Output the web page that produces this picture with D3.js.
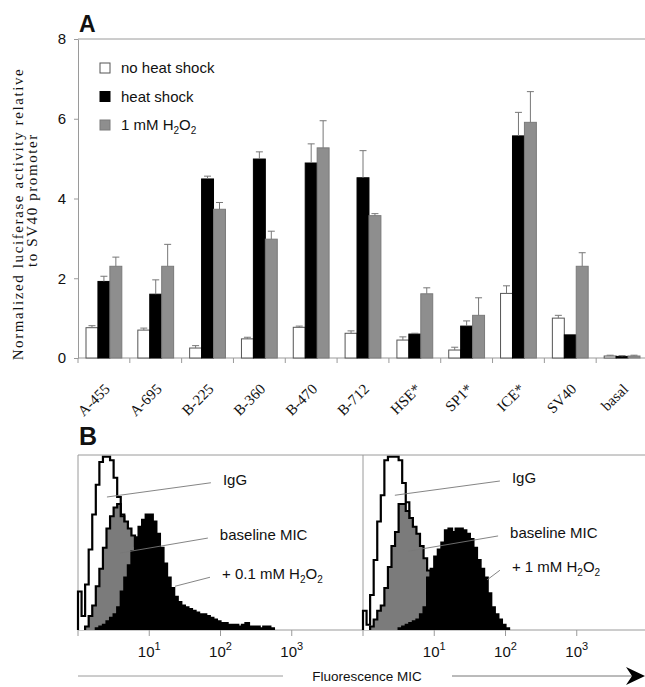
<!DOCTYPE html>
<html>
<head>
<meta charset="utf-8">
<script src="https://cdnjs.cloudflare.com/ajax/libs/d3/7.8.5/d3.min.js"></script>
<style>
  body { margin: 0; background: #fff; }
  text { font-family: "Liberation Sans", Arial, sans-serif; fill: #111; }
  .serif { font-family: "Liberation Serif", "Times New Roman", serif; }
</style>
</head>
<body>
<svg id="chart" width="645" height="687"></svg>
<script>
// ---- panel A: luciferase activity ----
const categories = ["A-455", "A-695", "B-225", "B-360", "B-470", "B-712", "HSE*", "SP1*", "ICE*", "SV40", "basal"];
const seriesNames = ["no heat shock", "heat shock", "1 mM H2O2"];
const noHeat    = [0.76, 0.70, 0.25, 0.48, 0.77, 0.62, 0.45, 0.20, 1.62, 1.00, 0.05];
const noHeatErr = [0.05, 0.05, 0.06, 0.04, 0.03, 0.06, 0.08, 0.07, 0.19, 0.07, 0.02];
const heat      = [1.92, 1.60, 4.49, 4.99, 4.89, 4.52, 0.60, 0.80, 5.57, 0.58, 0.04];
const heatErr   = [0.13, 0.36, 0.07, 0.18, 0.48, 0.68, 0.02, 0.13, 0.59, 0.00, 0.02];
const h2o2      = [2.30, 2.30, 3.73, 2.98, 5.27, 3.57, 1.61, 1.07, 5.91, 2.30, 0.05];
const h2o2Err   = [0.23, 0.55, 0.17, 0.20, 0.68, 0.05, 0.15, 0.44, 0.77, 0.34, 0.02];
const yTicks = [0, 2, 4, 6, 8];

// ---- panel B: flow histograms, counts per 1/20 decade bin ----
const binsPerDecade = 20;
const decadeTicks = [0, 1, 2, 3];
// left: + 0.1 mM H2O2
const p1IggStart = 0;
const p1Igg = [22, 8, 26, 46, 66, 83, 96, 99, 99, 97, 87, 76, 66, 54, 43, 31, 22, 14, 9, 5, 2, 1];
const p1BaseStart = 2;
const p1Base = [2, 8, 14, 25, 35, 47, 58, 65, 70, 72, 65, 62, 58, 54, 48, 42, 36, 30, 24, 18, 13, 9, 6, 4, 2, 1];
const p1TreatStart = 5;
const p1Treat = [1, 2, 3, 5, 7, 9, 13, 22, 30, 37, 45, 53, 59, 63, 66, 66, 62, 55, 47, 38,
                 30, 24, 19, 16, 14, 13, 12, 11, 10, 9, 9, 8, 7, 6, 5, 4, 4, 3, 3, 3,
                 2, 3, 4, 2, 2, 2, 1, 2, 2, 1];
// right: + 1 mM H2O2
const p2IggStart = 0;
const p2Igg = [11, 3, 20, 40, 62, 77, 97, 99, 99, 99, 97, 84, 73, 60, 47, 35, 25, 17, 11, 6, 3, 1];
const p2BaseStart = 2;
const p2Base = [2, 6, 11, 14, 24, 36, 48, 56, 72, 72, 68, 64, 59, 55, 48, 41, 34, 28, 22, 16, 11, 7, 4, 2, 1];
const p2TreatStart = 10;
const p2Treat = [1, 2, 3, 4, 5, 6, 9, 13, 30, 35, 42, 46, 50, 57, 58, 56, 58, 58, 57, 55,
                 52, 47, 40, 35, 30, 21, 13, 9, 6, 3, 1];

const svg = d3.select("#chart");
const axisGray = "#9a9a9a";

// =================== panel A ===================
const ax0 = 78, ax1 = 648, ayTop = 39, ayBot = 358;
const x = d3.scaleBand().domain(categories).range([ax0, ax1]);
const xs = d3.scaleBand().domain(d3.range(3)).range([8, x.bandwidth() - 8]);
const y = d3.scaleLinear().domain([0, 8]).range([ayBot, ayTop]);

const gA = svg.append("g");

gA.append("line")
  .attr("x1", ax0).attr("x2", 645).attr("y1", y(8)).attr("y2", y(8))
  .attr("stroke", axisGray);

gA.append("g")
  .attr("transform", `translate(${ax0},0)`)
  .call(d3.axisLeft(y).tickValues(yTicks).tickSize(4).tickSizeOuter(0).tickPadding(8))
  .call(g => {
    g.attr("font-family", null).attr("font-size", null);
    g.select(".domain").attr("stroke", axisGray);
    g.selectAll(".tick line").attr("stroke", axisGray);
    g.selectAll(".tick text").attr("font-size", 15).attr("fill", "#111");
  });

// x axis with boundary ticks
gA.append("line")
  .attr("x1", ax0).attr("x2", 645).attr("y1", y(0)).attr("y2", y(0))
  .attr("stroke", axisGray);
gA.selectAll(".xtick").data(categories).join("line")
  .attr("x1", d => x(d)).attr("x2", d => x(d))
  .attr("y1", y(0)).attr("y2", y(0) + 5)
  .attr("stroke", axisGray);

gA.selectAll(".xlab").data(categories).join("text")
  .attr("class", "serif")
  .attr("text-anchor", "end")
  .attr("font-size", 15)
  .attr("transform", d => `translate(${x(d) + x.bandwidth() / 2 + 7},390) rotate(-45)`)
  .text(d => d);

const seriesVals = [noHeat, heat, h2o2];
const seriesErr = [noHeatErr, heatErr, h2o2Err];
const fills = ["#ffffff", "#000000", "#8e8e8e"];
const strokes = ["#555555", "#000000", "#7a7a7a"];

seriesVals.forEach((vals, s) => {
  const g = gA.append("g");
  g.selectAll("rect").data(vals).join("rect")
    .attr("x", (d, i) => x(categories[i]) + xs(s))
    .attr("width", xs.bandwidth())
    .attr("y", d => y(d))
    .attr("height", d => y(0) - y(d))
    .attr("fill", fills[s])
    .attr("stroke", strokes[s])
    .attr("stroke-width", 1);
  const eg = g.selectAll(".err").data(vals.map((v, i) => ({ v, e: seriesErr[s][i], i })).filter(d => d.e > 0))
    .join("g");
  const cx = d => x(categories[d.i]) + xs(s) + xs.bandwidth() / 2;
  eg.append("line")
    .attr("x1", cx).attr("x2", cx)
    .attr("y1", d => y(d.v)).attr("y2", d => y(d.v + d.e))
    .attr("stroke", "#777");
  eg.append("line")
    .attr("x1", d => cx(d) - 3.5).attr("x2", d => cx(d) + 3.5)
    .attr("y1", d => y(d.v + d.e)).attr("y2", d => y(d.v + d.e))
    .attr("stroke", "#777");
});

// legend
const leg = gA.append("g").attr("transform", "translate(100,63)");
seriesNames.forEach((name, i) => {
  const row = leg.append("g").attr("transform", `translate(0,${i * 28.5})`);
  row.append("rect").attr("width", 10).attr("height", 10)
    .attr("fill", fills[i]).attr("stroke", strokes[i]);
  const t = row.append("text").attr("x", 21).attr("y", 10).attr("font-size", 15);
  if (name === "1 mM H2O2") {
    t.append("tspan").text("1 mM H");
    t.append("tspan").attr("dy", 4).attr("font-size", 10).text("2");
    t.append("tspan").attr("dy", -4).text("O");
    t.append("tspan").attr("dy", 4).attr("font-size", 10).text("2");
  } else {
    t.text(name);
  }
});

// y title
gA.append("text").attr("class", "serif")
  .attr("transform", "translate(23,214) rotate(-90)")
  .attr("text-anchor", "middle").attr("font-size", 15).attr("letter-spacing", 1.6)
  .text("Normalized luciferase activity relative");
gA.append("text").attr("class", "serif")
  .attr("transform", "translate(37,200) rotate(-90)")
  .attr("text-anchor", "middle").attr("font-size", 15).attr("letter-spacing", 1.6)
  .text("to SV40 promoter");

svg.append("text").attr("x", 79).attr("y", 32).attr("font-size", 23).attr("font-weight", "bold").text("A");
svg.append("text").attr("x", 79).attr("y", 445).attr("font-size", 25).attr("font-weight", "bold").text("B");

// =================== panel B ===================
const bTop = 455, bBot = 630, bW = 285;
const hy = d3.scaleLinear().domain([0, 100]).range([bBot, bTop]);

const panels = [
  { x0: 78, igg: p1Igg, iggStart: p1IggStart, base: p1Base, baseStart: p1BaseStart,
    treat: p1Treat, treatStart: p1TreatStart, dose: "+ 0.1 mM H",
    // label anchors and leader targets in data units (fluorescence, count)
    notes: [{ lx: 108, ly: 83, tx: 2.55, ty: 76 },
            { lx: 98, ly: 51.4, tx: 3.9, ty: 44 },
            { lx: 105, ly: 29, tx: 23, ty: 25 }] },
  { x0: 363, igg: p2Igg, iggStart: p2IggStart, base: p2Base, baseStart: p2BaseStart,
    treat: p2Treat, treatStart: p2TreatStart, dose: "+ 1 mM H",
    notes: [{ lx: 123, ly: 84, tx: 2.8, ty: 77 },
            { lx: 116, ly: 52.6, tx: 4.3, ty: 45 },
            { lx: 123, ly: 33, tx: 55, ty: 28.6 }] }
];

const gB = svg.append("g");
gB.append("line").attr("x1", 78).attr("x2", 645).attr("y1", bTop).attr("y2", bTop).attr("stroke", axisGray);
gB.append("line").attr("x1", 78).attr("x2", 645).attr("y1", bBot).attr("y2", bBot).attr("stroke", axisGray);

panels.forEach(p => {
  const fx = d3.scaleLog().domain([1, 1e4]).range([p.x0, p.x0 + bW]);
  const edge = e => fx(Math.pow(10, e / binsPerDecade));
  const g = gB.append("g");

  g.append("line").attr("x1", p.x0).attr("x2", p.x0).attr("y1", bTop).attr("y2", bBot).attr("stroke", axisGray);

  function hist(counts, start, fill) {
    const pts = counts.map((v, j) => [start + j, v]);
    pts.push([start + counts.length, counts[counts.length - 1]]);
    const area = d3.area().curve(d3.curveStepAfter)
      .x(d => edge(d[0])).y0(hy(0)).y1(d => hy(d[1]));
    const outline = [[start, 0], ...pts, [start + counts.length, 0]];
    const line = d3.line().curve(d3.curveStepAfter)
      .x(d => edge(d[0])).y(d => hy(d[1]));
    g.append("path").attr("d", area(pts)).attr("fill", fill);
    g.append("path").attr("d", line(outline)).attr("fill", "none")
      .attr("stroke", "#000").attr("stroke-width", 2.2);
  }
  hist(p.igg, p.iggStart, "#ffffff");
  hist(p.base, p.baseStart, "#7b7b7b");
  hist(p.treat, p.treatStart, "#000000");

  // decade ticks
  decadeTicks.forEach(k => {
    const tx = fx(Math.pow(10, k));
    g.append("line").attr("x1", tx).attr("x2", tx).attr("y1", bBot).attr("y2", bBot + 6).attr("stroke", axisGray);
    if (k > 0) {
      const t = g.append("text").attr("x", tx).attr("y", 657).attr("text-anchor", "middle").attr("font-size", 15);
      t.append("tspan").text("10");
      t.append("tspan").attr("dy", -7).attr("font-size", 11).text(k);
    }
  });

  // annotations
  const names = ["IgG", "baseline MIC", p.dose];
  p.notes.forEach((n, i) => {
    const lx = fx(n.lx), ly = hy(n.ly);
    g.append("line")
      .attr("x1", lx - 12).attr("y1", ly - 2)
      .attr("x2", fx(n.tx)).attr("y2", hy(n.ty))
      .attr("stroke", "#777").attr("stroke-width", 0.9);
    const t = g.append("text").attr("x", lx).attr("y", ly).attr("font-size", 15);
    if (i < 2) {
      t.text(names[i]);
    } else {
      t.append("tspan").text(names[i]);
      t.append("tspan").attr("dy", 4).attr("font-size", 10).text("2");
      t.append("tspan").attr("dy", -4).text("O");
      t.append("tspan").attr("dy", 4).attr("font-size", 10).text("2");
    }
  });
});

// fluorescence axis arrow
const arrowY = 676;
gB.append("line").attr("x1", 78).attr("x2", 283).attr("y1", arrowY).attr("y2", arrowY).attr("stroke", axisGray);
gB.append("text").attr("x", 367).attr("y", 681).attr("text-anchor", "middle").attr("font-size", 13.5).text("Fluorescence MIC");
gB.append("line").attr("x1", 452).attr("x2", 634).attr("y1", arrowY).attr("y2", arrowY).attr("stroke", "#777");
gB.append("path")
  .attr("d", `M645,${arrowY} L626,${arrowY - 9} L632,${arrowY} L626,${arrowY + 9} Z`)
  .attr("fill", "#000");
</script>
</body>
</html>
